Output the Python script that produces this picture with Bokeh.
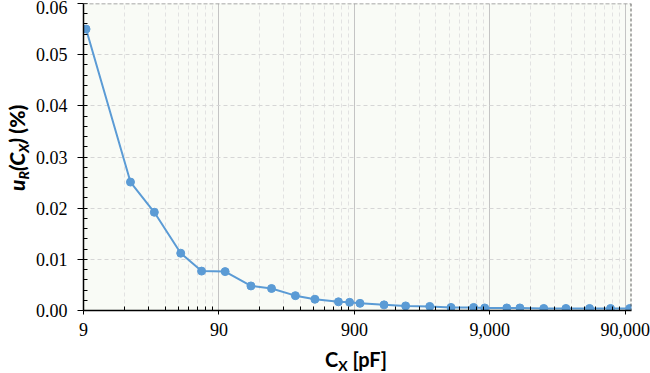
import math
from bokeh.plotting import figure
from bokeh.layouts import column, row
from bokeh.models import (Span, FixedTicker, NumeralTickFormatter,
                          SingleIntervalTicker, Range1d, Div)
from bokeh.embed import file_html
from bokeh.resources import INLINE

# ---- data ----
cx_pf = [9.4, 20, 30, 47, 67, 100, 155, 220, 330, 460, 686, 830, 990, 1490,
         2150, 3240, 4650, 6830, 8250, 12000, 15000, 22500, 32800, 49000,
         70000, 97000]
ur_pct = [0.0550, 0.0251, 0.0192, 0.0112, 0.0077, 0.0076, 0.0048, 0.0043,
          0.0029, 0.0022, 0.0017, 0.0016, 0.0014, 0.0011, 0.0009, 0.0008,
          0.0006, 0.0006, 0.0005, 0.0005, 0.0005, 0.0004, 0.0004, 0.0004,
          0.0004, 0.0004]
x_major_ticks = [9, 90, 900, 9000, 90000]
x_minor_ticks = [k * d for d in [9, 90, 900, 9000] for k in range(2, 10)]
x_min, x_max = 9, 100000
y_min, y_max = 0.0, 0.06

BLUE = "#5b9bd5"

# page geometry
W, H = 650, 373
YL_W = 27            # width of the y-title column
FIG_H = 345          # figure height; x-title strip below
FL, FR, FT, FB = 83, 631, 3, 310   # frame edges in page px

p = figure(width=W - YL_W, height=FIG_H, x_axis_type="log",
           x_range=Range1d(x_min, x_max), y_range=Range1d(y_min, y_max),
           output_backend="svg", toolbar_location=None,
           min_border_left=FL - YL_W, min_border_right=W - FR,
           min_border_top=FT, min_border_bottom=FIG_H - FB, margin=0)
p.background_fill_color = "#f9fbf6"
p.border_fill_color = None
p.outline_line_color = None

# axes
xa = p.xaxis[0]
xa.ticker = FixedTicker(ticks=x_major_ticks, minor_ticks=x_minor_ticks)
xa.formatter = NumeralTickFormatter(format="0,0")
ya = p.yaxis[0]
ya.ticker = SingleIntervalTicker(interval=0.01, num_minor_ticks=5)
ya.formatter = NumeralTickFormatter(format="0.00")

for ax in (xa, ya):
    ax.axis_line_color = "black"
    ax.axis_line_width = 1.5
    ax.major_tick_line_color = "black"
    ax.minor_tick_line_color = "black"
    ax.major_label_text_font = "Liberation Serif"
    ax.major_label_text_font_size = "18px"
    ax.major_label_text_color = "black"

xa.major_tick_out = 4
xa.major_tick_in = 0
xa.minor_tick_in = 4
xa.minor_tick_out = 0
xa.major_label_standoff = 8
ya.major_tick_out = 6
ya.major_tick_in = 0
ya.minor_tick_in = 4
ya.minor_tick_out = 0
ya.major_label_standoff = 10

# grids
p.xgrid.grid_line_color = "#c4c4c4"
p.xgrid.grid_line_width = 1
p.xgrid.minor_grid_line_color = "#e2e2e2"
p.xgrid.minor_grid_line_dash = "4 3"
p.ygrid.grid_line_color = "#d6d6d6"
p.ygrid.grid_line_dash = "4 3"

# borders (top dashed, right dashed dark)
p.add_layout(Span(location=y_max, dimension="width", line_color="#8c8c8c",
                  line_dash="4 2", line_width=1.5))
p.add_layout(Span(location=x_max, dimension="height", line_color="#5f5f5f",
                  line_dash="3 2", line_width=2))

# series
p.line(cx_pf, ur_pct, line_color=BLUE, line_width=2)
p.scatter(cx_pf, ur_pct, size=8, fill_color=BLUE, line_color=BLUE)

# ---- axis titles (HTML text with real subscripts) ----
SUB = "font-size:14px;vertical-align:-4px;line-height:0;"
ytitle_html = (
    f'<div style="position:relative;width:{YL_W}px;height:{FIG_H}px;">'
    '<div style="position:absolute;left:5px;top:191px;'
    'transform-origin:0 0;transform:rotate(-90deg);white-space:nowrap;'
    'font-family:Lato;font-weight:900;font-style:italic;font-size:21px;'
    'line-height:24px;color:black;">'
    f'u<sub style="{SUB}">R</sub>(C<sub style="{SUB}">X</sub>) '
    '<span style="font-style:normal">(%)</span></div></div>')
xtitle_html = (
    f'<div style="position:relative;width:{W}px;height:{H - FIG_H}px;">'
    '<div style="position:absolute;left:325px;top:2px;white-space:nowrap;'
    'font-family:Lato;font-weight:bold;font-size:20px;line-height:24px;'
    'color:black;">'
    f'C<sub style="{SUB}">X</sub> [pF]</div></div>')

ydiv = Div(text=ytitle_html, width=YL_W, height=FIG_H, margin=0)
xdiv = Div(text=xtitle_html, width=W, height=H - FIG_H, margin=0)

layout = column(row(ydiv, p, margin=0, spacing=0), xdiv, margin=0,
                spacing=0)

open("out.html", "w").write(file_html(layout, INLINE))
